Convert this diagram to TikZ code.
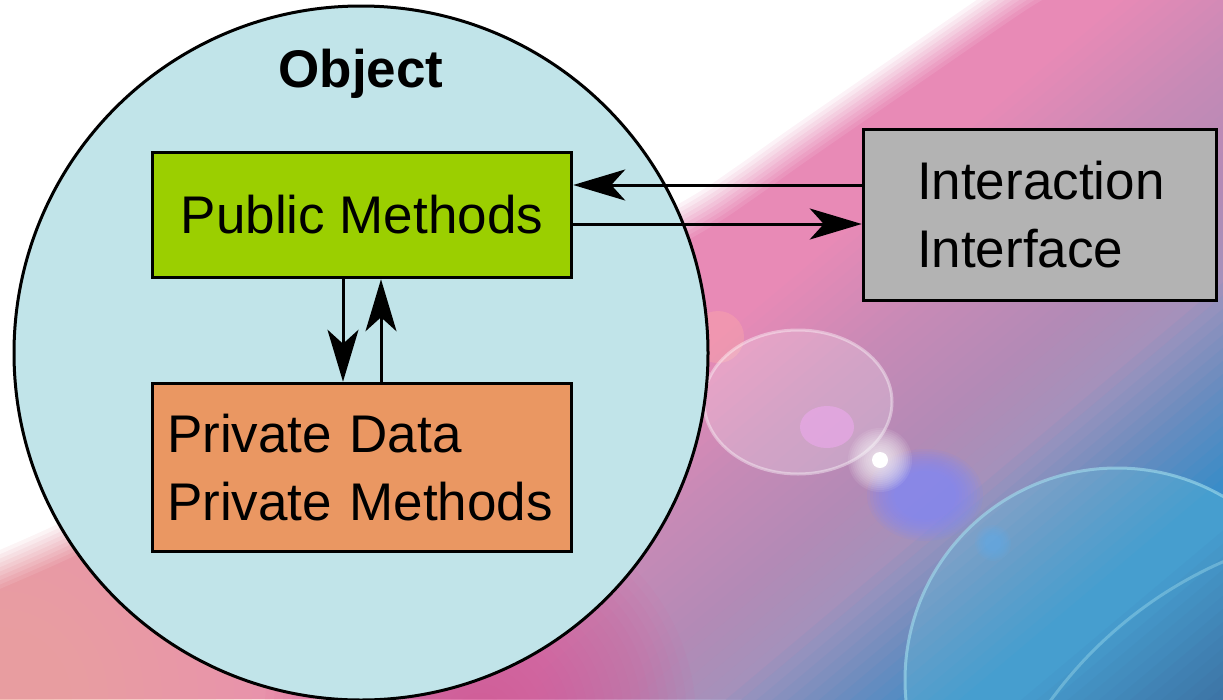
\documentclass[tikz,border=0pt]{standalone}
\usepackage{fontspec}
\setmainfont{Liberation Sans}
\usetikzlibrary{arrows.meta}

\definecolor{objfill}{RGB}{193,228,233}
\definecolor{pubfill}{RGB}{155,207,0}
\definecolor{privfill}{RGB}{234,151,98}
\definecolor{ifacefill}{RGB}{179,179,179}
\definecolor{bgpink}{RGB}{232,138,182}
\definecolor{bgsalmon}{RGB}{238,170,160}
\definecolor{bghot}{RGB}{226,84,150}
\definecolor{bglav}{RGB}{162,148,190}
\definecolor{bgblue}{RGB}{58,140,200}
\definecolor{bgnavy}{RGB}{42,60,120}
\definecolor{flareviolet}{RGB}{125,135,255}
\definecolor{flarelilac}{RGB}{232,168,232}
\definecolor{flaresalmon}{RGB}{250,165,170}
\definecolor{flareblue}{RGB}{90,160,240}
\definecolor{tealglass}{RGB}{100,200,225}

\begin{document}
\begin{tikzpicture}[x=1pt,y=1pt,
  box/.style={draw=black, line width=3.5pt, rectangle, inner sep=0pt},
  txt/.style={font=\fontsize{53}{68}\selectfont},
  link/.style={draw=black, line width=3pt,
    -{Stealth[length=52pt,width=31pt,inset=14pt]}},
]
\useasboundingbox (0,0) rectangle (1223,-699);

% ---------- backdrop ----------
\begin{scope}
\clip (0,0) rectangle (1223,-699);
\fill[bgpink] (0,0) rectangle (1223,-699);

% salmon wash in the lower left corner
\foreach \i in {1,...,20}
  \fill[bgsalmon, fill opacity=0.075] (0,-699) circle ({18*\i});

% lavender band
\begin{scope}[shift={(1223,-400)}, rotate=-50]
  \foreach \k in {1,...,30} {
    \pgfmathsetmacro\op{1/(31-\k)}
    \fill[bglav, fill opacity=\op] ({-380+10*\k},-2000) rectangle (2500,2000);
  }
\end{scope}

% hot pink glow at the bottom
\foreach \i in {1,...,24}
  \fill[bghot, fill opacity=0.055] (480,-720) circle ({9*\i});

% blue and navy towards the lower right
\begin{scope}[shift={(1223,-400)}, rotate=-50]
  \foreach \k in {1,...,16} {
    \pgfmathsetmacro\op{1/(17-\k)}
    \fill[bgblue, fill opacity=\op] ({-100+10*\k},-2000) rectangle (2500,2000);
  }
  \foreach \k in {1,...,16} {
    \pgfmathsetmacro\op{1-(1-0.85*\k/16)/(1-0.85*(\k-1)/16)}
    \fill[bgnavy, fill opacity=\op] ({90+10*\k},-2000) rectangle (2500,2000);
  }
\end{scope}

% white area in the upper left, with a soft edge
\foreach \k in {1,...,10} {
  \pgfmathsetmacro\op{1/(11-\k)}
  \pgfmathsetmacro\sh{20-4*\k}
  \fill[white, fill opacity=\op, shift={({0.5*\sh},{-0.87*\sh})}]
    (-60,60) -- (1060,60) -- (1060,20) -- plot[smooth] coordinates
    {(1045,20) (1012,0) (900,-77) (800,-146) (745,-185) (696,-217)
     (560,-292) (400,-380) (200,-478) (60,-545) (-20,-580)}
    -- (-60,-610) -- cycle;
}

% lens flare
\fill[flaresalmon, fill opacity=0.45] (718,-337) circle (26);
\fill[white, fill opacity=0.22] (798,-402) ellipse [x radius=94, y radius=72];
\draw[white, draw opacity=0.4, line width=3pt] (798,-402) ellipse [x radius=94, y radius=72];
\fill[flarelilac, fill opacity=0.7] (827,-427) ellipse [x radius=27, y radius=21];
\foreach \i in {1,...,10}
  \fill[flareviolet, fill opacity=0.11] (925,-495) ellipse [x radius={28+3*\i}, y radius={22+2.4*\i}];
\foreach \i in {1,...,16}
  \fill[white, fill opacity=0.085] (880,-460) circle ({2*\i});
\fill[white] (880,-460) circle (8);
\foreach \i in {1,...,6}
  \fill[flareblue, fill opacity=0.12] (993,-543) circle ({6+2*\i});
\fill[tealglass, fill opacity=0.3] (1117,-680) circle (212);
\draw[tealglass!60!white, draw opacity=0.6, line width=3pt] (1117,-680) circle (212);
\draw[tealglass!60!white, draw opacity=0.4, line width=3pt] (1394,-951) circle (425);
\end{scope}

% ---------- object diagram ----------
\node[circle, draw=black, line width=3pt, fill=objfill, minimum size=694pt,
      inner sep=0pt] (obj) at (361,-353) {};
\node[font=\bfseries\fontsize{53}{68}\selectfont, anchor=base, inner sep=0pt]
      (objname) at (361,-87) {Object};

\node[box, txt, fill=pubfill, minimum width=419pt, minimum height=125pt]
      (pub) at (362,-215) {Public Methods};
\node[box, txt, fill=privfill, minimum width=419pt, minimum height=168pt,
      text width=390pt, align=left]
      (priv) at (362,-467.5) {Private Data\\Private Methods};
\node[box, txt, fill=ifacefill, minimum width=353pt, minimum height=171pt,
      text width=246pt, align=left]
      (iface) at (1040,-215) {Interaction\\Interface};

\draw[link] ([yshift=30pt]iface.west) -- ([yshift=30pt]pub.east);
\draw[link] ([yshift=-9pt]pub.east) -- ([yshift=-9pt]iface.west);
\draw[link] ([xshift=-19pt]pub.south) -- ([xshift=-19pt]priv.north);
\draw[link] ([xshift=19pt]priv.north) -- ([xshift=19pt]pub.south);
\end{tikzpicture}
\end{document}
